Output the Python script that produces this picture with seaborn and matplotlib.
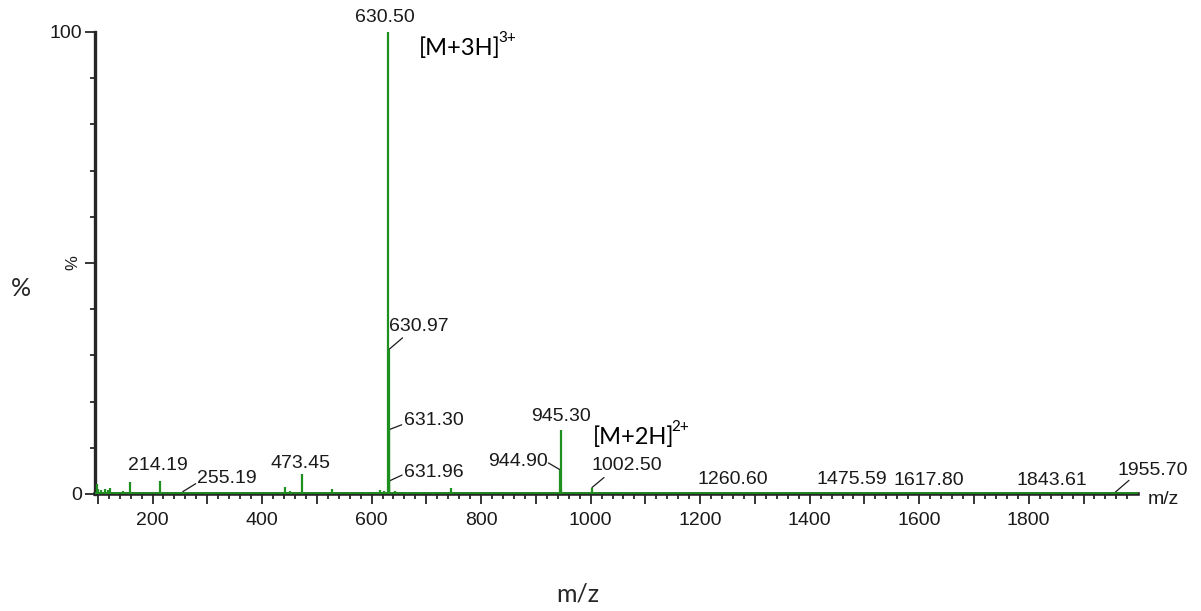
"""
Mass spectrum (ESI) of the peptide: [M+3H]3+ at 630.50 and [M+2H]2+ at 945.30.
"""

import matplotlib
matplotlib.use('Agg')
import matplotlib.pyplot as plt
from matplotlib.ticker import MultipleLocator, FuncFormatter
import seaborn as sns

# Peak list (m/z, relative intensity %)
mz = [98, 101, 106, 114, 119, 123, 136, 147, 158, 214.19, 230, 255.19, 300,
      442, 451, 473.45, 528, 560, 590, 604, 610, 616, 622,
      630.50, 630.97, 631.30, 631.96, 643, 665, 689, 713, 745, 792, 840, 900,
      944.90, 945.30, 946.0, 975, 1002.50, 1060, 1260.60, 1299, 1475.59,
      1617.80, 1843.61, 1955.70]
intensity = [2.2, 1.0, 0.8, 1.0, 0.8, 1.2, 0.5, 0.7, 2.6, 2.9, 0.3, 0.5, 0.2,
             1.5, 0.7, 4.3, 1.0, 0.3, 0.5, 0.4, 0.5, 0.8, 0.6,
             100.0, 31.2, 13.9, 2.8, 0.6, 0.4, 0.4, 0.4, 1.3, 0.3, 0.3, 0.2,
             5.2, 13.9, 1.0, 0.3, 1.4, 0.5, 0.3, 0.3, 0.3,
             0.15, 0.15, 0.15]

# Peaks that carry an m/z label
labelled = [214.19, 255.19, 473.45, 630.50, 630.97, 631.30, 631.96,
            944.90, 945.30, 1002.50, 1260.60, 1475.59, 1617.80, 1843.61, 1955.70]

# Charge-state annotations (base text, superscript)
ion_base = ['[M+3H]', '[M+2H]']
ion_charge = ['3+', '2+']
ion_mz = [630.50, 945.30]

# label layout: (dx, dy) offset in pixels of the text, alignment, leader end (or None)
label_layout = {
    214.19: ((-2, 15), 'center', None),
    255.19: ((14, 13), 'left', (13, 8)),
    473.45: ((-2, 11), 'center', None),
    630.50: ((-3, 14), 'center', None),
    630.97: ((0, 23), 'left', (14, 12)),
    631.30: ((15, 9), 'left', (13, 5)),
    631.96: ((15, 9), 'left', (13, 6)),
    944.90: ((-13, 8), 'right', (-12, 7)),
    945.30: ((0, 13), 'center', None),
    1002.50: ((0, 22), 'left', (12, 10)),
    1260.60: ((-1, 13), 'center', None),
    1475.59: ((1, 13), 'center', None),
    1617.80: ((0, 13), 'center', None),
    1843.61: ((-1, 13), 'center', None),
    1955.70: ((3, 23), 'left', (15, 13)),
}
ion_layout = [(31, -16), (32, -7)]

GREEN = '#1f8f1f'
TXT = '#1a1a1a'

sns.set_style('ticks')
plt.rcParams['font.family'] = ['Liberation Sans', 'DejaVu Sans']

fig = plt.figure(figsize=(12.01, 6.11), dpi=100)
ax = fig.add_axes([95 / 1201, 1 - 494 / 611, (1138 - 95) / 1201, (494 - 32) / 611])

# stick spectrum
ax.vlines(mz, 0, intensity, color=GREEN, lw=1.6, zorder=4)
ax.axhline(0.3, color=GREEN, lw=1.3, zorder=4)

ax.set_xlim(95, 1999.5)
ax.set_ylim(0, 100)
sns.despine(ax=ax)
ax.spines['left'].set_linewidth(2.4)
ax.spines['bottom'].set_linewidth(2.6)
ax.spines['left'].set_bounds(0, 100)

ax.xaxis.set_major_locator(MultipleLocator(100))
ax.xaxis.set_minor_locator(MultipleLocator(20))
ax.xaxis.set_major_formatter(FuncFormatter(lambda v, p: f'{v:.0f}' if v % 200 == 0 else ''))
ax.set_yticks([0, 50, 100])
ax.set_yticklabels(['0', '', '100'])
ax.yaxis.set_minor_locator(MultipleLocator(10))
ax.tick_params(axis='x', which='major', pad=6)
ax.tick_params(axis='y', which='major', pad=2)
ax.tick_params(axis='both', which='major', length=7.2, width=1.1, direction='out',
               labelsize=14, color='black', labelcolor=TXT)
ax.tick_params(axis='both', which='minor', length=3.6, width=1.1, direction='out', color='black')

# rotated % at the 50 tick, m/z at the end of the axis
ax.annotate('%', xy=(0, 50), xycoords=('axes fraction', 'data'), xytext=(-22, 0),
            textcoords='offset pixels', rotation=90, ha='center', va='center',
            fontsize=12, color=TXT)
ax.annotate('m/z', xy=(1, 0), xycoords='axes fraction', xytext=(10, -6),
            textcoords='offset pixels', ha='left', va='center', fontsize=14, color=TXT)

# peak labels
peak_h = dict(zip(mz, intensity))
for m in labelled:
    (dx, dy), ha, leader = label_layout[m]
    h = peak_h[m]
    ax.annotate(f'{m:.2f}', xy=(m, h), xytext=(dx, dy), textcoords='offset pixels',
                ha=ha, va='center', fontsize=14, color=TXT)
    if leader is not None:
        ax.annotate('', xy=(m, h), xytext=leader, textcoords='offset pixels',
                    arrowprops=dict(arrowstyle='-', color=TXT, lw=0.9,
                                    shrinkA=0, shrinkB=0))

# charge-state labels with superscript charge
for base, charge, m, (dx, dy) in zip(ion_base, ion_charge, ion_mz, ion_layout):
    t = ax.annotate(base, xy=(m, peak_h[m]), xytext=(dx, dy),
                    textcoords='offset pixels', ha='left', va='center',
                    fontsize=17, family=['Lato', 'DejaVu Sans'], color='black')
    ax.annotate(charge, xy=(1, 0.64), xycoords=t, xytext=(-3, 0),
                textcoords='offset pixels', ha='left', va='bottom',
                fontsize=11, family=['Lato', 'DejaVu Sans'], color='black')

# outer axis titles
fig.text(21 / 1201, 1 - 289 / 611, '%', ha='center', va='center', fontsize=18,
         family=['Lato', 'DejaVu Sans'])
fig.text(578 / 1201, 1 - 594 / 611, 'm/z', ha='center', va='center', fontsize=18,
         family=['Lato', 'DejaVu Sans'])

fig.savefig('out.png', dpi=100)
